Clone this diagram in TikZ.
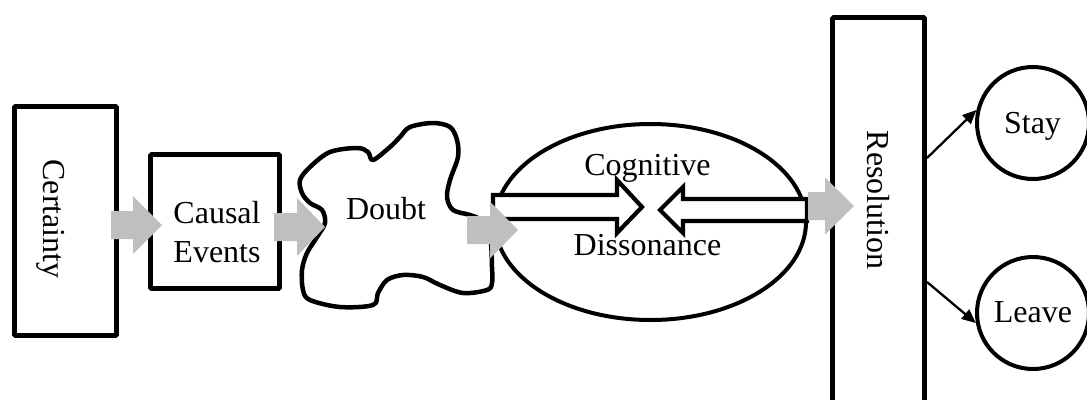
\documentclass[tikz,border=0pt]{standalone}
\usepackage{fontspec}
\setmainfont{Liberation Serif}
\usetikzlibrary{arrows.meta,shapes.geometric}
\definecolor{grayA}{RGB}{191,191,191}
\newcommand\grayarrow[6]{\fill[grayA] (#1,#4-#5) -- (#2,#4-#5) -- (#2,#4-#6) -- (#3,#4) -- (#2,#4+#6) -- (#2,#4+#5) -- (#1,#4+#5) -- cycle;}
\begin{document}
\begin{tikzpicture}[x=1pt,y=-1pt,
  box/.style={draw=black,line width=4.6pt,rounded corners=1pt,fill=white,inner sep=0pt,rectangle},
  oval/.style={draw=black,line width=4pt,fill=white,ellipse,inner sep=0pt},
  ring/.style={draw=black,line width=4pt,fill=white,circle,inner sep=0pt,minimum size=112pt},
  hollow/.style={draw=black,line width=4.2pt,fill=white,line join=miter},
  cloudline/.style={draw=black,line width=4.5pt,fill=white,line join=round},
  thinarrow/.style={draw=black,line width=2.3pt,-{Triangle[length=14pt,width=12pt]}},
  txt/.style={font=\fontsize{32}{38}\selectfont,inner sep=0pt,anchor=base}]
\useasboundingbox (0,0) rectangle (1087,399);
\clip (0,0) rectangle (1087,399);
% shapes
\node[box,minimum width=102pt,minimum height=229pt] (cert) at (65.5,221) {};
\node[box,minimum width=129pt,minimum height=134pt] (causal) at (215,221.5) {};
\node[box,minimum width=92pt,minimum height=402pt] (res) at (878.5,218.5) {};
\draw[cloudline] plot[smooth cycle,tension=0.55] coordinates {
 (300,180) (310,167) (330,152) (357,148) (368,152) (373,160) (390,147) (400,137)
 (410,127) (433,123) (450,127) (457,140) (458,157) (450,180) (447,197) (453,210)
 (470,215) (480,220) (490,237) (492,267) (492,283) (487,290) (463,293) (440,285)
 (423,277) (403,275) (387,280) (378,293) (373,305) (340,307) (310,300) (303,290)
 (302,270) (307,253) (317,237) (325,223) (322,210) (310,203) (302,193)};
\coordinate (doubt) at (390,215);
\node[oval,minimum width=311pt,minimum height=196pt] (cd) at (650.5,222) {};
\node[ring] (stay) at (1033,123) {};
\node[ring] (leave) at (1033,313) {};
% hollow arrows inside the ellipse
\draw[hollow] (493,195) -- (617,195) -- (617,180) -- (642,207) -- (617,233) -- (617,219) -- (493,219) -- cycle;
\draw[hollow] (807,199) -- (683,199) -- (683,187) -- (660,210) -- (683,233) -- (683,221) -- (807,221) -- cycle;
% gray block arrows
\grayarrow{111}{133}{162}{225}{14}{29}
\grayarrow{274}{297}{325}{227}{14}{29}
\grayarrow{467}{490}{518}{230}{14}{28.5}
\grayarrow{808}{825}{854}{206}{14}{28.5}
% thin arrows
\coordinate (r1) at (927,158);
\coordinate (r2) at (927,282);
\draw[thinarrow] (r1) -- (stay.167);
\draw[thinarrow] (r2) -- (leave.190);
% texts
\node[txt,rotate=-90] (tcert) at (43,219) {Certainty};
\node[txt] (tcausal) at (217,223) {Causal};
\node[txt] (tevents) at (217,262) {Events};
\node[txt] (tdoubt) at (386,219) {Doubt};
\node[txt] (tcog) at (647.5,175) {Cognitive};
\node[txt] (tdis) at (647.5,255) {Dissonance};
\node[txt,rotate=-90] (tres) at (867,200) {Resolution};
\node[txt] (tstay) at (1032.5,133) {Stay};
\node[txt] (tleave) at (1033,322) {Leave};
\end{tikzpicture}
\end{document}
